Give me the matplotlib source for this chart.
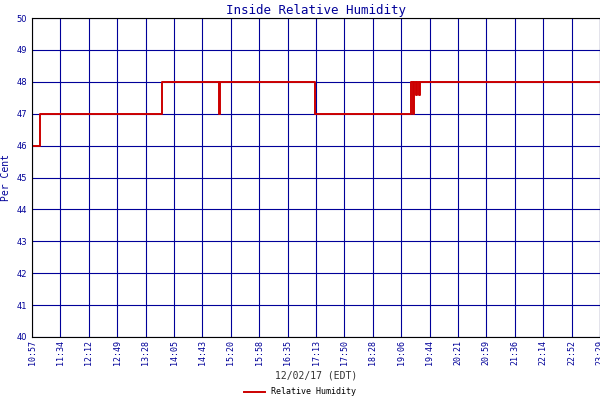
import numpy as np
import matplotlib.pyplot as plt

# minutes since midnight, humidity (step series)
times = [657, 668, 829, 904, 905.5, 1032, 1159, 1161.5, 1163, 1166, 1167, 1169, 1171, 1409]
values = [46, 47, 48, 47, 48, 47, 48, 47, 48, 47.6, 48, 47.6, 48, 48]
tick_labels = ["10:57", "11:34", "12:12", "12:49", "13:28", "14:05", "14:43", "15:20",
               "15:58", "16:35", "17:13", "17:50", "18:28", "19:06", "19:44", "20:21",
               "20:59", "21:36", "22:14", "22:52", "23:29"]

blue = "#000099"
fig = plt.figure(figsize=(6, 4), dpi=100)
ax = fig.add_axes([32 / 600, 63 / 400, 568 / 600, 319 / 400])
ax.step(times, values, where="post", color="#cc0000", lw=1.4, label="Relative Humidity")

ticks = np.linspace(657, 1409, len(tick_labels))
ax.set_xticks(ticks)
ax.set_xticklabels(tick_labels, rotation=90, fontsize=6, family="DejaVu Sans Mono", color=blue)
ax.set_xlim(657, 1409)
ax.set_ylim(40, 50)
ax.set_yticks(range(40, 51))
ax.tick_params(axis="y", labelsize=6, labelcolor=blue, length=0)
ax.tick_params(axis="x", length=0, pad=2)
ax.grid(True, color=blue, lw=0.8)
for s in ax.spines.values():
    s.set_color("black")
ax.set_title("Inside Relative Humidity", fontsize=9, color=blue, family="DejaVu Sans Mono", pad=3)
ax.set_ylabel("Per Cent", fontsize=7, color=blue, family="DejaVu Sans Mono")
ax.set_xlabel("12/02/17 (EDT)", fontsize=7, color="#333333", family="DejaVu Sans Mono", labelpad=4)
fig.legend(loc="lower center", bbox_to_anchor=(0.5, -0.01), frameon=False,
           prop={"size": 6, "family": "DejaVu Sans Mono"}, handlelength=2.5)
fig.savefig("out.png", dpi=100)
